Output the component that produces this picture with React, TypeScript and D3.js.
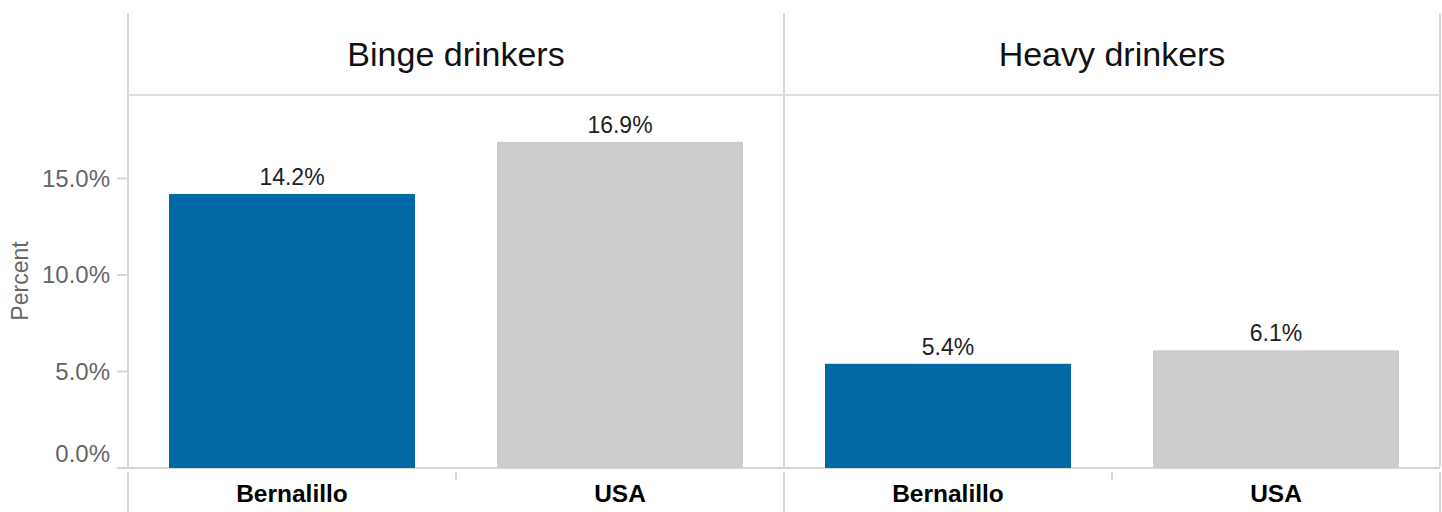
import React from "react";
import * as d3 from "d3";

const panels = ["Binge drinkers", "Heavy drinkers"];
const categories = ["Bernalillo", "USA"];
const bingeValues = [14.2, 16.9];
const heavyValues = [5.4, 6.1];
const yTicks = [0, 5, 10, 15];

const W = 1442;
const H = 512;
const left = 128;
const right = 1440;
const plotTop = 95;
const plotBottom = 468;
const lineTop = 13;
const lineColor = "#d6d6d6";
const colors = ["#0069a6", "#cccccc"];
const font = "'Liberation Sans', Arial, sans-serif";

export default function App() {
  const panelScale = d3.scaleBand<string>().domain(panels).range([left, right]);
  const y = d3.scaleLinear().domain([0, 15]).range([plotBottom, 178.5]);
  const valuesByPanel = [bingeValues, heavyValues];

  return (
    <div style={{ position: "absolute", left: 0, top: 0 }}>
      <svg width={W} height={H} style={{ display: "block", fontFamily: font }}>
        <rect width={W} height={H} fill="#fff" />
        <line x1={left} x2={right} y1={plotTop} y2={plotTop} stroke={lineColor} strokeWidth={1.5} />
        <line x1={117} x2={right} y1={plotBottom} y2={plotBottom} stroke={lineColor} strokeWidth={2} />
        {[left, ...panels.map((p) => (panelScale(p) as number) + panelScale.bandwidth())].map((x, i) => (
          <g key={i}>
            <line x1={x} x2={x} y1={lineTop} y2={plotBottom - 1} stroke={lineColor} strokeWidth={2} />
            <line x1={x} x2={x} y1={plotBottom + 4} y2={H} stroke={lineColor} strokeWidth={2} />
          </g>
        ))}
        {yTicks.map((t) => (
          <g key={t}>
            <line x1={117} x2={left} y1={y(t)} y2={y(t)} stroke={lineColor} strokeWidth={2} />
            <text
              x={110}
              y={t === 0 ? y(t) - 14 : y(t)}
              dy="0.35em"
              textAnchor="end"
              fontSize={24}
              fill="#666"
            >
              {d3.format(".1f")(t) + "%"}
            </text>
          </g>
        ))}
        <text transform={`translate(28,281) rotate(-90)`} textAnchor="middle" fontSize={23} fill="#666">
          Percent
        </text>
        {panels.map((p, pi) => {
          const x0 = panelScale(p) as number;
          const bw = panelScale.bandwidth();
          const xs = d3
            .scaleBand<string>()
            .domain(categories)
            .range([x0, x0 + bw])
            .paddingInner(0.25)
            .paddingOuter(0.125);
          const vals = valuesByPanel[pi];
          return (
            <g key={p}>
              <text x={x0 + bw / 2} y={66} textAnchor="middle" fontSize={34} fill="#111">
                {p}
              </text>
              <line x1={x0 + bw / 2} x2={x0 + bw / 2} y1={472} y2={480} stroke={lineColor} strokeWidth={2} />
              {categories.map((c, ci) => {
                const bx = xs(c) as number;
                return (
                  <g key={c}>
                    <rect
                      x={bx}
                      y={y(vals[ci])}
                      width={xs.bandwidth()}
                      height={plotBottom - y(vals[ci])}
                      fill={colors[ci]}
                    />
                    <text
                      x={bx + xs.bandwidth() / 2}
                      y={y(vals[ci]) - 9}
                      textAnchor="middle"
                      fontSize={23}
                      fill="#222"
                    >
                      {d3.format(".1f")(vals[ci]) + "%"}
                    </text>
                    <text
                      x={bx + xs.bandwidth() / 2}
                      y={502}
                      textAnchor="middle"
                      fontSize={24.5}
                      fontWeight="bold"
                      fill="#000"
                    >
                      {c}
                    </text>
                  </g>
                );
              })}
            </g>
          );
        })}
      </svg>
    </div>
  );
}
